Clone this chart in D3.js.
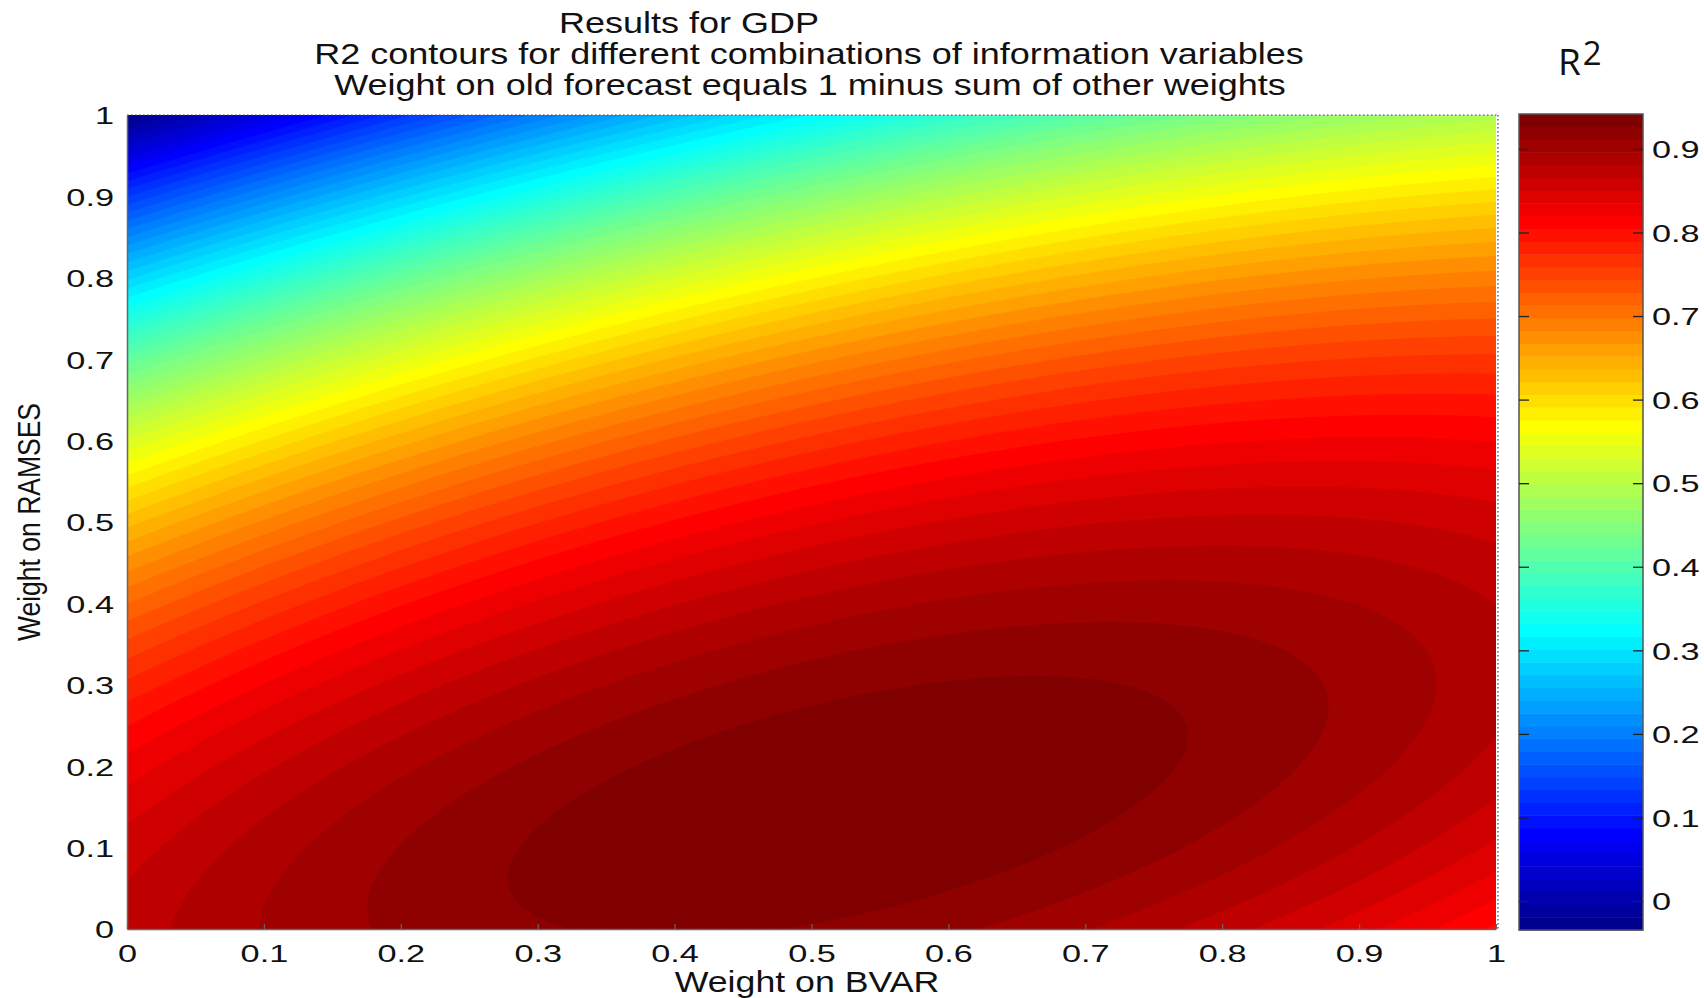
<!DOCTYPE html>
<html>
<head>
<meta charset="utf-8">
<script src="https://cdn.jsdelivr.net/npm/d3@7"></script>
<style>
  body { margin: 0; background: #fff; }
  svg { display: block; }
</style>
</head>
<body>
<svg id="chart" width="1704" height="998"></svg>
<script>
// R2 readings at combinations of weights (BVAR weight, RAMSES weight)
const sampleBVAR = [
  0, 0, 0, 0, 0, 0, 0, 0, 0, 0,
  0.04, 0.10, 0.26, 0.48, 0.74, 1,
  1, 1, 1, 1, 1, 1,
  0.028, 0.094, 0.180, 0.330, 0.640,
  0.279, 0.782, 0.671, 0.492, 0.622, 0.720, 0.889,
  0.53, 0.67, 0.20
];
const sampleRAMSES = [
  0, 0.056, 0.236, 0.400, 0.468, 0.569, 0.786, 0.937, 0.975, 1,
  1, 1, 1, 1, 1, 1,
  0.927, 0.792, 0.625, 0.527, 0.315, 0,
  0, 0, 0, 0, 0,
  0.069, 0.241, 0.312, 0.273, 0.072, 0.380, 0.281,
  0.15, 0.856, 0.856
];
const sampleR2 = [
  0.873, 0.870, 0.810, 0.720, 0.660, 0.566, 0.320, 0.085, -0.018, -0.037,
  -0.018, 0.06, 0.19, 0.32, 0.43, 0.50,
  0.566, 0.680, 0.810, 0.855, 0.887, 0.810,
  0.879, 0.894, 0.910, 0.925, 0.910,
  0.925, 0.925, 0.925, 0.925, 0.925, 0.910, 0.910,
  0.940, 0.566, 0.33
];

const xTicks = [0, 0.1, 0.2, 0.3, 0.4, 0.5, 0.6, 0.7, 0.8, 0.9, 1];
const yTicks = [0, 0.1, 0.2, 0.3, 0.4, 0.5, 0.6, 0.7, 0.8, 0.9, 1];
const cbTicks = [0, 0.1, 0.2, 0.3, 0.4, 0.5, 0.6, 0.7, 0.8, 0.9];
const titleLines = [
  "Results for GDP",
  "R2 contours for different combinations of information variables",
  "Weight on old forecast equals 1 minus sum of other weights"
];
const xLabel = "Weight on BVAR";
const yLabel = "Weight on RAMSES";
const nColors = 64;

// R2 of a linear forecast combination is quadratic in the weights:
// least-squares fit of a full quadratic surface to the readings.
function fitQuadratic(xs, ys, zs) {
  const basis = (a, b) => [1, a, b, a * a, a * b, b * b];
  const N = 6;
  const M = Array.from({ length: N }, () => new Array(N + 1).fill(0));
  xs.forEach((a, i) => {
    const r = basis(a, ys[i]);
    for (let p = 0; p < N; p++) {
      for (let q = 0; q < N; q++) M[p][q] += r[p] * r[q];
      M[p][N] += r[p] * zs[i];
    }
  });
  for (let c = 0; c < N; c++) {
    let piv = c;
    for (let r = c + 1; r < N; r++) if (Math.abs(M[r][c]) > Math.abs(M[piv][c])) piv = r;
    [M[c], M[piv]] = [M[piv], M[c]];
    for (let r = 0; r < N; r++) {
      if (r === c) continue;
      const f = M[r][c] / M[c][c];
      for (let k = c; k <= N; k++) M[r][k] -= f * M[c][k];
    }
  }
  const coef = M.map((row, i) => row[N] / row[i]);
  return (a, b) => basis(a, b).reduce((s, v, i) => s + v * coef[i], 0);
}

// MATLAB-style jet colormap with n entries
function jet(n) {
  const m = Math.ceil(n / 4);
  const u = [
    ...d3.range(1, m + 1).map(i => i / m),
    ...new Array(m - 1).fill(1),
    ...d3.range(m, 0, -1).map(i => i / m)
  ];
  const g0 = Math.ceil(m / 2) - (n % 4 === 1 ? 1 : 0);
  const cols = d3.range(n).map(() => [0, 0, 0]);
  u.forEach((v, k) => {
    const g = g0 + k + 1, r = g + m, b = g - m;
    if (r >= 1 && r <= n) cols[r - 1][0] = v;
    if (g >= 1 && g <= n) cols[g - 1][1] = v;
    if (b >= 1 && b <= n) cols[b - 1][2] = v;
  });
  return cols.map(c => d3.rgb(c[0] * 255, c[1] * 255, c[2] * 255).formatHex());
}

const svg = d3.select("#chart");
const plot = { left: 127, right: 1496, top: 115, bottom: 929 };
const cb = { left: 1519, right: 1643, top: 114, bottom: 930 };

const x = d3.scaleLinear().domain([0, 1]).range([plot.left, plot.right]);
const y = d3.scaleLinear().domain([0, 1]).range([plot.bottom, plot.top]);

// surface sampled on a grid of cell centres (row 0 = RAMSES weight 1)
const surface = fitQuadratic(sampleBVAR, sampleRAMSES, sampleR2);
const nx = 456, ny = 272;
const values = new Float64Array(nx * ny);
for (let j = 0; j < ny; j++) {
  for (let i = 0; i < nx; i++) {
    values[j * nx + i] = surface((i + 0.5) / nx, 1 - (j + 0.5) / ny);
  }
}
const [cmin, cmax] = d3.extent([
  ...values, surface(0, 0), surface(0, 1), surface(1, 0), surface(1, 1)
]);
const step = (cmax - cmin) / nColors;
const colors = jet(nColors);
const thresholds = d3.range(nColors).map(k => (k === 0 ? cmin - 1 : cmin + k * step));

const contours = d3.contours().size([nx, ny]).thresholds(thresholds)(values);
const gridToPlot = d3.geoTransform({
  point(gx, gy) { this.stream.point(x(gx / nx), y(1 - gy / ny)); }
});
const path = d3.geoPath(gridToPlot);

svg.append("clipPath").attr("id", "plot-clip")
  .append("rect")
  .attr("x", plot.left).attr("y", plot.top)
  .attr("width", plot.right - plot.left).attr("height", plot.bottom - plot.top);

svg.append("g").attr("clip-path", "url(#plot-clip)")
  .selectAll("path")
  .data(contours)
  .join("path")
  .attr("d", path)
  .attr("fill", (d, k) => colors[k])
  .attr("stroke", (d, k) => colors[k])
  .attr("stroke-width", 0.6);

// box: solid left/bottom, dotted top/right
const box = svg.append("g").attr("fill", "none");
box.append("line").attr("x1", plot.left).attr("x2", plot.right + 1)
  .attr("y1", plot.top).attr("y2", plot.top)
  .attr("stroke", "#444").attr("stroke-width", 1.2).attr("stroke-dasharray", "1.5,2.5");
box.append("line").attr("x1", plot.right + 2).attr("x2", plot.right + 2)
  .attr("y1", plot.top).attr("y2", plot.bottom)
  .attr("stroke", "#444").attr("stroke-width", 1.2).attr("stroke-dasharray", "1.5,2.5");

const tickFont = "'Liberation Sans', Arial, Helvetica, sans-serif";
const tickSize = 24.5, tickStretch = 1.4;

const gx = svg.append("g")
  .attr("transform", `translate(0,${plot.bottom})`)
  .call(d3.axisBottom(x).tickValues(xTicks).tickFormat(d3.format(""))
    .tickSizeInner(-5).tickSizeOuter(0).tickPadding(0));
gx.select(".domain").attr("stroke", "#666").attr("stroke-width", 1.5);
gx.selectAll(".tick line").attr("stroke", "#666").attr("stroke-width", 1.2);
gx.selectAll(".tick text")
  .attr("y", null).attr("dy", null)
  .attr("transform", `translate(0,33) scale(${tickStretch},1)`)
  .attr("font-family", tickFont).attr("font-size", tickSize).attr("fill", "#111");

const gy = svg.append("g")
  .attr("transform", `translate(${plot.left},0)`)
  .call(d3.axisLeft(y).tickValues(yTicks).tickFormat(d3.format(""))
    .tickSize(0).tickPadding(0));
gy.select(".domain").attr("stroke", "#666").attr("stroke-width", 1.5);
gy.selectAll(".tick text")
  .attr("x", null).attr("dy", "0.36em")
  .attr("transform", `translate(-13,0) scale(${tickStretch},1)`)
  .attr("font-family", tickFont).attr("font-size", tickSize).attr("fill", "#111");

// colour bar
const cbY = d3.scaleLinear().domain([cmin, cmax]).range([cb.bottom, cb.top]);
const gcb = svg.append("g");
gcb.selectAll("rect.band")
  .data(d3.range(nColors))
  .join("rect")
  .attr("class", "band")
  .attr("x", cb.left).attr("width", cb.right - cb.left)
  .attr("y", k => cbY(cmin + (k + 1) * step))
  .attr("height", k => cbY(cmin + k * step) - cbY(cmin + (k + 1) * step) + 0.5)
  .attr("fill", k => colors[k]);
gcb.append("rect")
  .attr("x", cb.left).attr("y", cb.top)
  .attr("width", cb.right - cb.left).attr("height", cb.bottom - cb.top)
  .attr("fill", "none").attr("stroke", "#555").attr("stroke-width", 1.5);
const cbTick = gcb.selectAll("g.cbtick").data(cbTicks).join("g")
  .attr("class", "cbtick")
  .attr("transform", d => `translate(0,${cbY(d)})`);
cbTick.append("line").attr("x1", cb.left).attr("x2", cb.left + 10)
  .attr("stroke", "#222").attr("stroke-width", 1.3);
cbTick.append("line").attr("x1", cb.right - 10).attr("x2", cb.right)
  .attr("stroke", "#222").attr("stroke-width", 1.3);
cbTick.append("text")
  .attr("transform", `translate(${cb.right + 9},0) scale(${tickStretch},1)`)
  .attr("dy", "0.36em")
  .attr("font-family", tickFont).attr("font-size", tickSize).attr("fill", "#111")
  .text(d => d3.format("")(d));

// titles and axis labels
const labelFont = "'Liberation Sans', Arial, Helvetica, sans-serif";
const titleX = [689, 809, 810];
const titleY = [33, 64, 95];
svg.append("g").selectAll("text")
  .data(titleLines)
  .join("text")
  .attr("transform", (d, i) => `translate(${titleX[i]},${titleY[i]}) scale(1.2,1)`)
  .attr("text-anchor", "middle")
  .attr("font-family", labelFont).attr("font-size", 30).attr("fill", "#111")
  .text(d => d);

svg.append("text")
  .attr("transform", `translate(807,992) scale(1.19,1)`)
  .attr("text-anchor", "middle")
  .attr("font-family", labelFont).attr("font-size", 30).attr("fill", "#111")
  .text(xLabel);

svg.append("text")
  .attr("transform", `translate(40,522) scale(1.2,1) rotate(-90)`)
  .attr("text-anchor", "middle")
  .attr("font-family", labelFont).attr("font-size", 26.5).attr("fill", "#111")
  .text(yLabel);

const r2 = svg.append("text")
  .attr("x", 1558).attr("y", 75)
  .attr("font-family", "'Open Sans', 'Noto Sans', sans-serif")
  .attr("font-size", 37).attr("fill", "#111");
r2.append("tspan").text("R");
r2.append("tspan").attr("dx", 2).attr("dy", -10).attr("font-size", 33).text("2");
</script>
</body>
</html>
